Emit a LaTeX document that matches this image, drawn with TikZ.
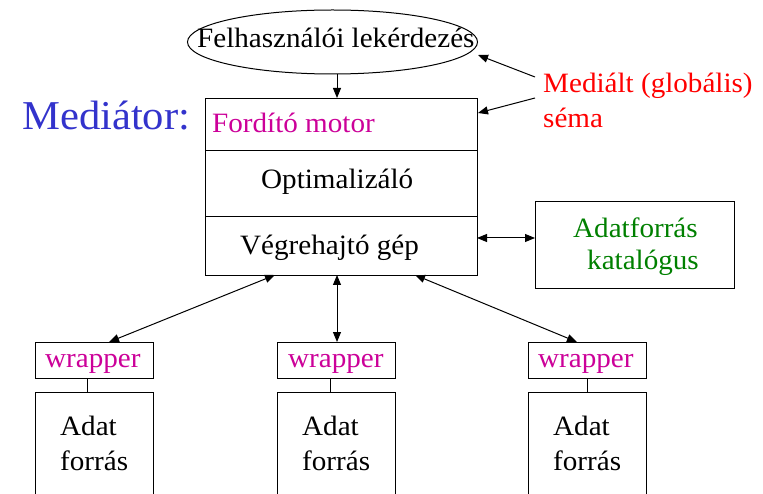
\documentclass[tikz,border=0pt]{standalone}
\usepackage{fontspec}
\setmainfont{Liberation Serif}[FakeStretch=1.04]
\usetikzlibrary{arrows.meta,shapes.geometric}
\definecolor{medblue}{RGB}{51,51,204}
\definecolor{mag}{RGB}{204,0,153}
\definecolor{grn}{RGB}{0,128,0}
\definecolor{red}{RGB}{255,0,0}
\begin{document}
\begin{tikzpicture}[x=1pt,y=-1pt,
  box/.style={draw,line width=1pt,rectangle,inner sep=0pt,anchor=north west},
  txt/.style={inner sep=0pt,anchor=base west,font=\fontsize{28}{35}\selectfont},
  conn/.style={line width=1pt,-{Triangle[length=10pt,width=8pt]}},
  dconn/.style={line width=1pt,{Triangle[length=10pt,width=8pt]}-{Triangle[length=10pt,width=8pt]}}]
\clip (0,0) rectangle (763,494);
\fill[white] (0,0) rectangle (763,494);
% ellipse
\node[draw,line width=1pt,ellipse,minimum width=290,minimum height=64,inner sep=0pt] (q) at (332.5,42) {};
\node[txt] (qt) at (197,48) {Felhasználói lekérdezés};
% main box
\node[box,minimum width=272,minimum height=52] (fm) at (205,98) {};
\node[box,minimum width=272,minimum height=66] (opt) at (205,150) {};
\node[box,minimum width=272,minimum height=59] (veg) at (205,216) {};
\node[txt,text=mag] (fmt) at (212,133) {Fordító motor};
\node[txt] (optt) at (261,189) {Optimalizáló};
\node[txt] (vegt) at (240,255) {Végrehajtó gép};
% labels
\node[inner sep=0pt,anchor=base west,font=\fontsize{41}{45}\selectfont,text=medblue] (med) at (22,130) {Mediátor:};
\node[txt,text=red] (ms1) at (543,93) {Mediált (globális)};
\node[txt,text=red] (ms2) at (543,128) {séma};
% catalog
\node[box,minimum width=199,minimum height=87] (cat) at (535,201) {};
\node[txt,text=grn] (cat1) at (573,238) {Adatforrás};
\node[txt,text=grn] (cat2) at (587,270) {katalógus};
% wrappers and sources
\foreach \n/\x/\lx/\tx in {1/35/87/45, 2/277/330/288, 3/528/587/538}{
  \node[box,minimum width=118,minimum height=36] (w\n) at (\x,342) {};
  \node[txt,text=mag] (wt\n) at (\tx,367) {wrapper};
  \node[box,minimum width=118,minimum height=120] (s\n) at (\x,392) {};
  \node[txt] (sa\n) at (\x+25,435) {Adat};
  \node[txt] (sb\n) at (\x+25,470) {forrás};
  \coordinate (wl\n) at (\lx,378);
  \coordinate (sl\n) at (\lx,392);
  \draw[line width=1pt] (wl\n) -- (sl\n);
}
% connectors
\coordinate (qb) at (337,74);
\coordinate (fmtop) at (337,98);
\draw[conn] (qb) -- (fmtop);
\coordinate (m1) at (535,77);
\coordinate (q1) at (478,55);
\draw[conn] (m1) -- (q1);
\coordinate (m2) at (535,98);
\coordinate (f2) at (478,113);
\draw[conn] (m2) -- (f2);
\coordinate (vr) at (477,238);
\coordinate (cl) at (535,238);
\draw[dconn] (vr) -- (cl);
\coordinate (b1) at (275,275);
\coordinate (b2) at (337,275);
\coordinate (b3) at (415,275);
\coordinate (e1) at (109,342);
\coordinate (e2) at (337,342);
\coordinate (e3) at (577,342);
\draw[dconn] (b1) -- (e1);
\draw[dconn] (b2) -- (e2);
\draw[dconn] (b3) -- (e3);
\end{tikzpicture}
\end{document}
